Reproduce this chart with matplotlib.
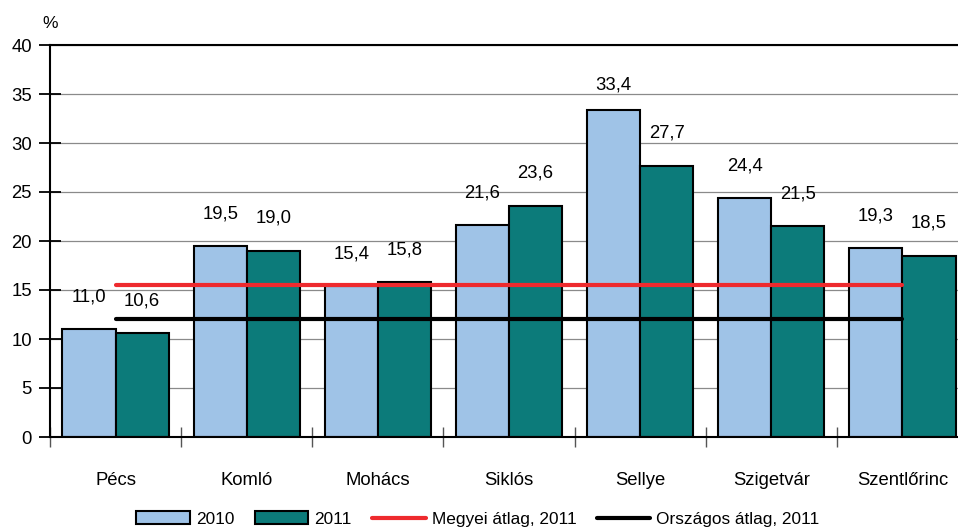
import matplotlib
matplotlib.use("Agg")
import matplotlib.pyplot as plt
import numpy as np

categories = ["Pécs", "Komló", "Mohács", "Siklós", "Sellye", "Szigetvár", "Szentlőrinc"]
vals_2010 = [11.0, 19.5, 15.4, 21.6, 33.4, 24.4, 19.3]
vals_2011 = [10.6, 19.0, 15.8, 23.6, 27.7, 21.5, 18.5]
megyei_avg = 15.5
orszagos_avg = 12.0
yticks = [0, 5, 10, 15, 20, 25, 30, 35, 40]

plt.rcParams['font.family'] = ['Liberation Sans', 'DejaVu Sans']
FS = 13.3

W, H = 958, 527
fig = plt.figure(figsize=(W / 100, H / 100), dpi=100)
ax = fig.add_axes([50 / W, 1 - 437 / H, 918 / W, 392 / H])

x = np.arange(len(categories))
bw = 0.405
c2010 = "#9FC3E7"
c2011 = "#0C7B7A"

ax.set_axisbelow(True)
ax.yaxis.grid(True, color="#8a8a8a", linewidth=0.9)
b1 = ax.bar(x - bw / 2, vals_2010, bw, color=c2010, edgecolor="black", linewidth=1.5, label="2010", zorder=2)
b2 = ax.bar(x + bw / 2, vals_2011, bw, color=c2011, edgecolor="black", linewidth=1.5, label="2011", zorder=2)

l1, = ax.plot(x, [megyei_avg] * len(x), color="#EE2A2E", linewidth=3.0, solid_capstyle="round",
              label="Megyei átlag, 2011", zorder=3)
l2, = ax.plot(x, [orszagos_avg] * len(x), color="black", linewidth=3.0, solid_capstyle="round",
              label="Országos átlag, 2011", zorder=3)

def fmt(v):
    return f"{v:.1f}".replace(".", ",")

for xs, vs in ((x - bw / 2, vals_2010), (x + bw / 2, vals_2011)):
    for xi, v in zip(xs, vs):
        ax.text(xi, min(v + 3.3, 35.9), fmt(v), ha="center", va="center", fontsize=FS, zorder=4)

ax.set_xlim(-0.5, len(categories) - 0.5)
ax.set_ylim(0, 40)
ax.set_yticks(yticks)
ax.set_yticklabels([str(t) for t in yticks], fontsize=FS)
ax.set_xticks(x)
ax.set_xticklabels(categories, fontsize=FS)
ax.tick_params(axis="x", which="major", length=0, pad=25)
ax.set_xticks(np.arange(-0.5, len(categories) + 0.5, 1.0), minor=True)
ax.tick_params(axis="x", which="minor", direction="inout", length=15, width=1.0, color="#555555")
ax.tick_params(axis="y", direction="inout", length=16, width=1.3, pad=5)

for side in ("left", "bottom", "top"):
    ax.spines[side].set_color("black")
    ax.spines[side].set_linewidth(1.5)
ax.spines["right"].set_visible(False)

fig.text(50 / W, 1 - 23 / H, "%", fontsize=12.5, ha="center", va="center")

fig.legend(handles=[b1, b2, l1, l2], loc="center", bbox_to_anchor=(478 / W, 1 - 519 / H),
           ncol=4, frameon=False, fontsize=12.4, handlelength=3.1, handletextpad=0.35,
           columnspacing=1.2, borderpad=0, borderaxespad=0)

fig.savefig("out.png", dpi=100)
